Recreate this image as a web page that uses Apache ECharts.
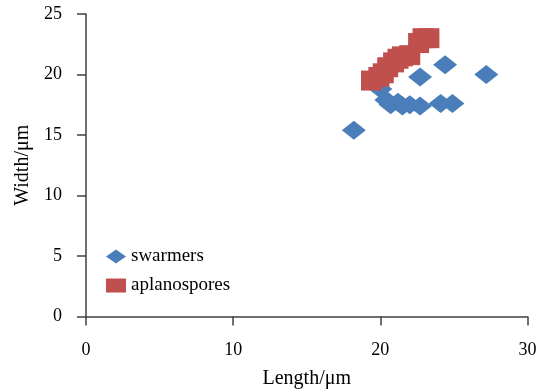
<!DOCTYPE html>
<html>
<head>
<meta charset="utf-8">
<script src="https://cdn.jsdelivr.net/npm/echarts@6/dist/echarts.min.js"></script>
<style>
html,body{margin:0;padding:0;background:#fff;}
#chart{width:541px;height:389px;}
</style>
</head>
<body>
<div id="chart"></div>
<script>
var seriesNames = ['swarmers', 'aplanospores'];
var swarmers = [
  [18.2, 15.4], [20.0, 18.8], [20.4, 17.9], [20.7, 17.5], [21.2, 17.7],
  [21.5, 17.4], [22.0, 17.5], [22.7, 17.4], [22.7, 19.8], [24.1, 17.6],
  [24.4, 20.8], [24.9, 17.6], [27.2, 20.0]
];
var aplanospores = [
  [19.4, 19.5], [19.9, 19.8], [20.2, 20.1], [20.5, 20.6], [20.9, 21.0],
  [21.2, 21.3], [21.5, 21.5], [22.0, 21.6], [22.6, 22.6], [22.9, 23.0],
  [23.3, 23.0]
];
var xAxisName = 'Length/\u03bcm';
var yAxisName = 'Width/\u03bcm';

var FONT = "'Liberation Serif', 'Times New Roman', serif";
var chart = echarts.init(document.getElementById('chart'), null, {renderer: 'canvas'});
chart.setOption({
  animation: false,
  backgroundColor: '#ffffff',
  textStyle: {fontFamily: FONT},
  grid: {left: 86, right: 13.5, top: 14, bottom: 72.5, containLabel: false, outerBoundsMode: 'none'},
  legend: {
    orient: 'vertical',
    left: 106,
    top: 247,
    padding: 0,
    itemWidth: 20,
    itemHeight: 14,
    itemGap: 10,
    textStyle: {fontFamily: FONT, fontSize: 19, color: '#000'},
    data: [
      {name: seriesNames[0], icon: 'diamond'},
      {name: seriesNames[1], icon: 'rect'}
    ]
  },
  xAxis: {
    type: 'value', min: 0, max: 30, interval: 10,
    name: xAxisName, nameLocation: 'middle', nameGap: 52,
    nameTextStyle: {fontFamily: FONT, fontSize: 20, color: '#000'},
    axisLine: {show: true, onZero: false, lineStyle: {color: '#404040', width: 1.5}},
    axisTick: {show: true, inside: false, length: 9, lineStyle: {color: '#404040', width: 1.5}},
    axisLabel: {margin: 25, fontFamily: FONT, fontSize: 18, color: '#000'},
    splitLine: {show: false}
  },
  yAxis: {
    type: 'value', min: 0, max: 25, interval: 5,
    name: yAxisName, nameLocation: 'middle', nameGap: 52, nameRotate: 90,
    nameTextStyle: {fontFamily: FONT, fontSize: 20, color: '#000'},
    axisLine: {show: true, onZero: false, lineStyle: {color: '#404040', width: 1.5}},
    axisTick: {show: true, inside: false, length: 9, lineStyle: {color: '#404040', width: 1.5}},
    axisLabel: {margin: 24, fontFamily: FONT, fontSize: 18, color: '#000'},
    splitLine: {show: false}
  },
  series: [
    {
      name: seriesNames[0], type: 'scatter', symbol: 'diamond', symbolSize: [24, 19],
      itemStyle: {color: '#4A7EBB', opacity: 1},
      data: swarmers, z: 2
    },
    {
      name: seriesNames[1], type: 'scatter', symbol: 'rect', symbolSize: [21, 20],
      itemStyle: {color: '#C0504D', opacity: 1},
      data: aplanospores, z: 3
    }
  ]
});
</script>
</body>
</html>
